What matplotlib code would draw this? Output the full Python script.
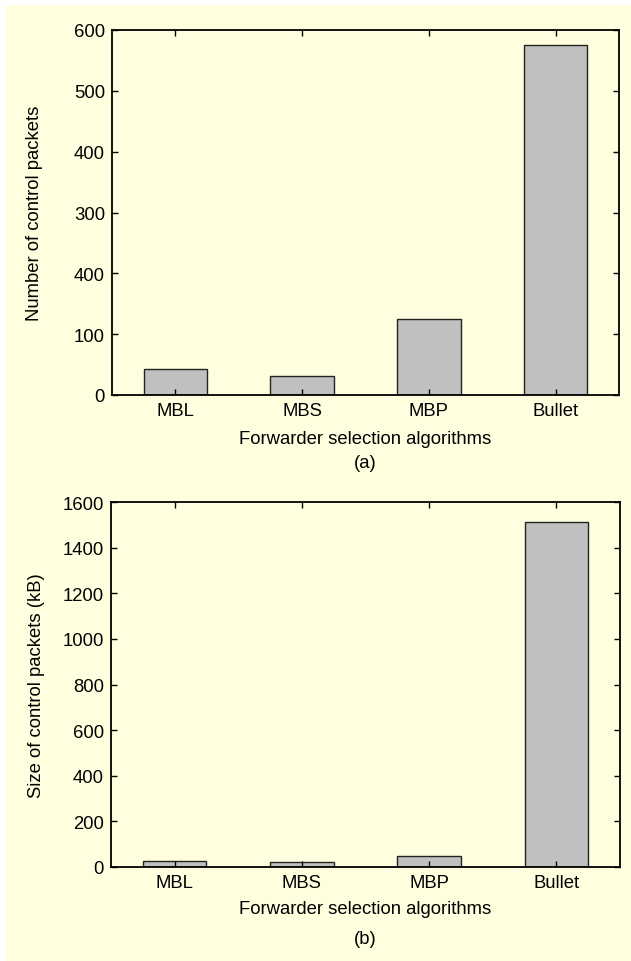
import matplotlib.pyplot as plt
from matplotlib.patches import Rectangle

# Data ====================================================================== #
algorithms = ['MBL', 'MBS', 'MBP', 'Bullet']
num_packets = [43, 31, 125, 575]          # (a) number of control packets
size_packets = [27, 22, 47, 1512]         # (b) size of control packets (kB)

ticks_a = [0, 100, 200, 300, 400, 500, 600]
ticklabels_a = ['0', '100', '400', '300', '400', '500', '600']  # as printed
ticks_b = [0, 200, 400, 600, 800, 1000, 1200, 1400, 1600]

plt.rcParams['font.family'] = ['Liberation Sans', 'DejaVu Sans']
bg = '#FFFFE0'
fs = 13.3

fig = plt.figure(figsize=(6.31, 9.62), dpi=100, facecolor='white')
# yellow page, white strip on top and left
fig.patches.append(Rectangle((6 / 631, 0), 1, 1 - 6 / 962, transform=fig.transFigure,
                             facecolor=bg, edgecolor='none', zorder=-10))

W, H = 631, 962
def add_axes(x0, y0, x1, y1):
    return fig.add_axes([x0 / W, 1 - y1 / H, (x1 - x0) / W, (y1 - y0) / H])

ax_a = add_axes(112, 31, 619, 396)
ax_b = add_axes(111, 503, 620, 868)

# (axes, values, ylabel, ylim, yticks, yticklabels, tag, ylabel x, xlabel y, tag y)
panels = [
    (ax_a, num_packets, 'Number of control packets', (0, 600), ticks_a, ticklabels_a,
     '(a)', -0.152, -0.12, -0.185),
    (ax_b, size_packets, 'Size of control packets (kB)', (0, 1600), ticks_b,
     [str(t) for t in ticks_b], '(b)', -0.146, -0.114, -0.196),
]

x = list(range(1, len(algorithms) + 1))
for ax, vals, ylab, ylim, yt, ytl, tag, ylx, xly, tgy in panels:
    ax.set_facecolor(bg)
    ax.bar(x, vals, width=0.5, color='#C0C0C0', edgecolor='#222222', linewidth=1.0)
    ax.set_xlim(0.5, 4.5)
    ax.set_ylim(*ylim)
    ax.set_xticks(x)
    ax.set_xticklabels(algorithms)
    ax.set_yticks(yt)
    ax.set_yticklabels(ytl)
    ax.tick_params(direction='in', length=4, width=1, top=True, right=True,
                   labelsize=fs, pad=5)
    for s in ax.spines.values():
        s.set_linewidth(1.3)
    ax.set_ylabel(ylab, fontsize=fs, va='center')
    ax.yaxis.set_label_coords(ylx, 0.5)
    ax.set_xlabel('Forwarder selection algorithms', fontsize=fs, va='center')
    ax.xaxis.set_label_coords(0.5, xly)
    ax.text(0.5, tgy, tag, transform=ax.transAxes, ha='center', va='center',
            fontsize=fs)

fig.savefig('out.png', dpi=100, facecolor=fig.get_facecolor())
